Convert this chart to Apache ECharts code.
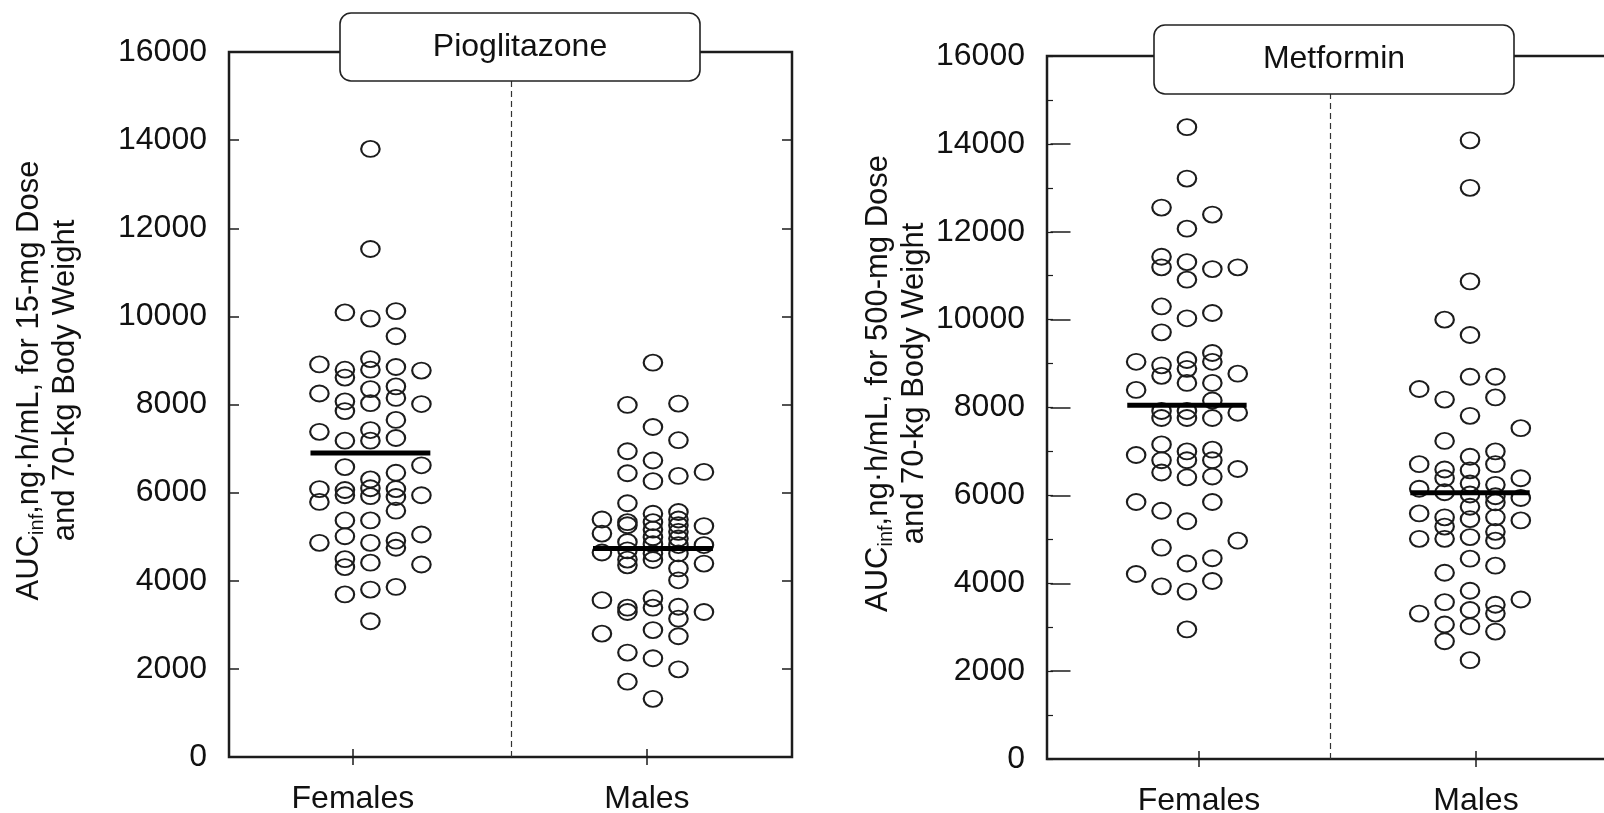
<!DOCTYPE html>
<html>
<head>
<meta charset="utf-8">
<script src="https://cdn.jsdelivr.net/npm/echarts@6/dist/echarts.min.js"></script>
<style>
html, body { margin: 0; padding: 0; background: #fff; }
#chart { width: 1604px; height: 813px; }
</style>
</head>
<body>
<div id="chart"></div>
<script>
// categories
var groups = ['Females', 'Males'];

// each point: [beeswarm column (-2..2), AUC value]
var pioFemales = [
    [0,13800],[0,11530],[0,9950],[0,9030],[0,8790],[0,8350],[0,8030],[0,7420],[0,7180],
    [0,6300],[0,6100],[0,5920],[0,5370],[0,4860],[0,4410],[0,3800],[0,3080],
    [-1,10090],[-1,8790],[-1,8610],[-1,8070],[-1,7850],[-1,7180],[-1,6580],[-1,6060],
    [-1,5940],[-1,5370],[-1,5010],[-1,4490],[-1,4310],[-1,3690],
    [1,10120],[1,9550],[1,8850],[1,8410],[1,8150],[1,7650],[1,7240],[1,6450],[1,6080],
    [1,5900],[1,5590],[1,4910],[1,4750],[1,3860],
    [-2,8910],[-2,8250],[-2,7380],[-2,6080],[-2,5790],[-2,4860],
    [2,8770],[2,8010],[2,6620],[2,5940],[2,5050],[2,4370]
];
var pioMales = [
    [0,8950],[0,7490],[0,6730],[0,6260],[0,5520],[0,5330],[0,5160],[0,4990],[0,4830],
    [0,4620],[0,4470],[0,3600],[0,3390],[0,2880],[0,2240],[0,1320],
    [-1,7990],[-1,6940],[-1,6440],[-1,5760],[-1,5330],[-1,5260],[-1,4880],[-1,4690],
    [-1,4480],[-1,4350],[-1,3390],[-1,3290],[-1,2370],[-1,1710],
    [1,8020],[1,7190],[1,6380],[1,5560],[1,5390],[1,5260],[1,5110],[1,4960],[1,4810],
    [1,4620],[1,4280],[1,4010],[1,3410],[1,3140],[1,2740],[1,1990],
    [-2,5390],[-2,5070],[-2,4640],[-2,3560],[-2,2800],
    [2,6470],[2,5240],[2,4810],[2,4390],[2,3290]
];
var metFemales = [
    [0,14380],[0,13210],[0,12070],[0,11310],[0,10910],[0,10030],[0,9080],[0,8880],[0,8560],
    [0,7920],[0,7760],[0,7000],[0,6800],[0,6410],[0,5410],[0,4450],[0,3810],[0,2950],
    [-1,12550],[-1,11430],[-1,11190],[-1,10300],[-1,9710],[-1,8960],[-1,8720],[-1,7920],
    [-1,7760],[-1,7160],[-1,6800],[-1,6520],[-1,5650],[-1,4810],[-1,3930],
    [1,12390],[1,11150],[1,10150],[1,9240],[1,9040],[1,8560],[1,8160],[1,7760],[1,7040],
    [1,6800],[1,6430],[1,5850],[1,4570],[1,4050],
    [-2,9040],[-2,8400],[-2,6920],[-2,5850],[-2,4210],
    [2,11190],[2,8770],[2,7880],[2,6600],[2,4970]
];
var metMales = [
    [0,14080],[0,13000],[0,10870],[0,9650],[0,8700],[0,7810],[0,6880],[0,6570],[0,6270],
    [0,6020],[0,5740],[0,5460],[0,5050],[0,4560],[0,3830],[0,3390],[0,3020],[0,2250],
    [-1,10000],[-1,8180],[-1,7240],[-1,6590],[-1,6390],[-1,6070],[-1,5500],[-1,5290],
    [-1,5010],[-1,4240],[-1,3570],[-1,3060],[-1,2680],
    [1,8700],[1,8230],[1,7000],[1,6710],[1,6240],[1,5980],[1,5840],[1,5500],[1,5170],
    [1,4970],[1,4400],[1,3510],[1,3310],[1,2900],
    [-2,8420],[-2,6710],[-2,6150],[-2,5590],[-2,5010],[-2,3310],
    [2,7530],[2,6390],[2,5940],[2,5430],[2,3630]
];

// group means (thick bars)
var pioMeans = [6900, 4730];
var metMeans = [8050, 6060];

var FONT = '"Liberation Sans", Arial, Helvetica, sans-serif';
var INK = '#1c1c1c';

var panels = [
    {
        title: 'Pioglitazone', dose: '15-mg',
        data: [pioFemales, pioMales], means: pioMeans,
        grid: { left: 229, top: 52, width: 563, height: 705 },
        xMin: 0.157, xMax: 3.987, sep: 2.082,
        centers: [1.119, 3.041], step: 0.1735,
        nameGap: 146, minor: false,
        box: { x: 340, y: 13, w: 360, h: 68 }
    },
    {
        title: 'Metformin', dose: '500-mg',
        data: [metFemales, metMales], means: metMeans,
        grid: { left: 1047, top: 56, width: 559, height: 703 },
        xMin: -0.0975, xMax: 3.939, sep: 1.953,
        centers: [0.913, 2.957], step: 0.1834,
        nameGap: 112, minor: true,
        box: { x: 1154, y: 25, w: 360, h: 69 }
    }
];

var grids = [], xAxes = [], yAxes = [], series = [], graphics = [];
var tickStyle = { color: INK, width: 1.5 };

panels.forEach(function (p, i) {
    grids.push({
        left: p.grid.left, top: p.grid.top, width: p.grid.width, height: p.grid.height,
        outerBoundsMode: 'none', containLabel: false,
        show: true, borderColor: INK, borderWidth: 2.5, backgroundColor: 'transparent'
    });

    var xBase = {
        type: 'value', gridIndex: i, position: 'bottom',
        min: p.xMin, max: p.xMax,
        axisLine: { show: false }, splitLine: { show: false }
    };
    xAxes.push(Object.assign({}, xBase, {
        axisTick: { show: true, length: 8, customValues: [1, 3], lineStyle: tickStyle },
        axisLabel: {
            customValues: [1, 3], margin: 26, color: '#111', fontFamily: FONT, fontSize: 32,
            formatter: function (v) { return groups[Math.round(v) === 1 ? 0 : 1]; }
        }
    }));
    xAxes.push(Object.assign({}, xBase, {
        axisTick: { show: true, inside: true, length: 8, customValues: [1, 3], lineStyle: tickStyle },
        axisLabel: { show: false }
    }));

    var yBase = {
        type: 'value', gridIndex: i, min: 0, max: 16000, interval: 2000,
        axisLine: { show: false }, splitLine: { show: false }
    };
    yAxes.push(Object.assign({}, yBase, {
        position: 'left',
        axisTick: { show: true, inside: true, length: 10, lineStyle: tickStyle },
        axisLabel: {
            margin: 22, color: '#111', fontFamily: FONT, fontSize: 32,
            formatter: function (v) { return String(v); }
        },
        name: '{a|AUC}{s|inf}{a|,ng\u00b7h/mL, for ' + p.dose + ' Dose}\n{a|and 70-kg Body Weight}',
        nameLocation: 'middle', nameRotate: 90, nameGap: p.nameGap,
        nameTextStyle: {
            color: '#111', fontFamily: FONT, fontSize: 31, lineHeight: 36,
            padding: [0, 0, 0, 48],
            rich: {
                a: { fontFamily: FONT, fontSize: 31, color: '#111', lineHeight: 36 },
                s: { fontFamily: FONT, fontSize: 20, color: '#111', lineHeight: 36, verticalAlign: 'bottom' }
            }
        }
    }));
    yAxes.push(Object.assign({}, yBase, {
        position: 'right',
        axisTick: { show: true, inside: true, length: 10, lineStyle: tickStyle },
        axisLabel: { show: false }
    }));
    if (p.minor) {
        // short inward ticks every 1000 on the left axis
        yAxes.push(Object.assign({}, yBase, {
            position: 'left', interval: 1000,
            axisTick: { show: true, inside: true, length: 6, lineStyle: { color: INK, width: 1.2 } },
            axisLabel: { show: false }
        }));
    }

    p.data.forEach(function (pts, g) {
        var c = p.centers[g];
        series.push({
            type: 'scatter', xAxisIndex: 2 * i, yAxisIndex: 2 * i,
            symbol: 'circle', symbolSize: [18.5, 16],
            itemStyle: { color: 'rgba(255,255,255,0)', borderColor: INK, borderWidth: 2, opacity: 1 },
            emphasis: { disabled: true },
            data: pts.map(function (d) { return [c + d[0] * p.step, d[1]]; }),
            markLine: g === 0 ? {
                silent: true, symbol: 'none', animation: false,
                label: { show: false },
                lineStyle: { color: '#333', width: 1.2, type: [6, 4] },
                data: [{ xAxis: p.sep }]
            } : undefined,
            z: 2
        });
        var hw = 2.35 * p.step;
        series.push({
            type: 'line', xAxisIndex: 2 * i, yAxisIndex: 2 * i,
            symbol: 'none', silent: true,
            lineStyle: { color: '#000', width: 5 },
            data: [[c - hw, p.means[g]], [c + hw, p.means[g]]],
            z: 3
        });
    });

    graphics.push({
        type: 'group', z: 100,
        children: [
            {
                type: 'rect', z: 100,
                shape: { x: p.box.x, y: p.box.y, width: p.box.w, height: p.box.h, r: 11 },
                style: { fill: '#fff', stroke: '#222', lineWidth: 1.6 }
            },
            {
                type: 'text', z: 101,
                style: {
                    text: p.title, x: p.box.x + p.box.w / 2, y: p.box.y + p.box.h / 2,
                    align: 'center', verticalAlign: 'middle',
                    fontFamily: FONT, fontSize: 32, fill: '#111'
                }
            }
        ]
    });
});

// yAxis indices shift when the right panel gets its extra minor-tick axis
var yIndex = [0, 2];
series.forEach(function (s) { s.yAxisIndex = yIndex[s.xAxisIndex / 2]; });

var chart = echarts.init(document.getElementById('chart'));
chart.setOption({
    animation: false,
    backgroundColor: '#fff',
    grid: grids,
    xAxis: xAxes,
    yAxis: yAxes,
    series: series,
    graphic: graphics
});
</script>
</body>
</html>
